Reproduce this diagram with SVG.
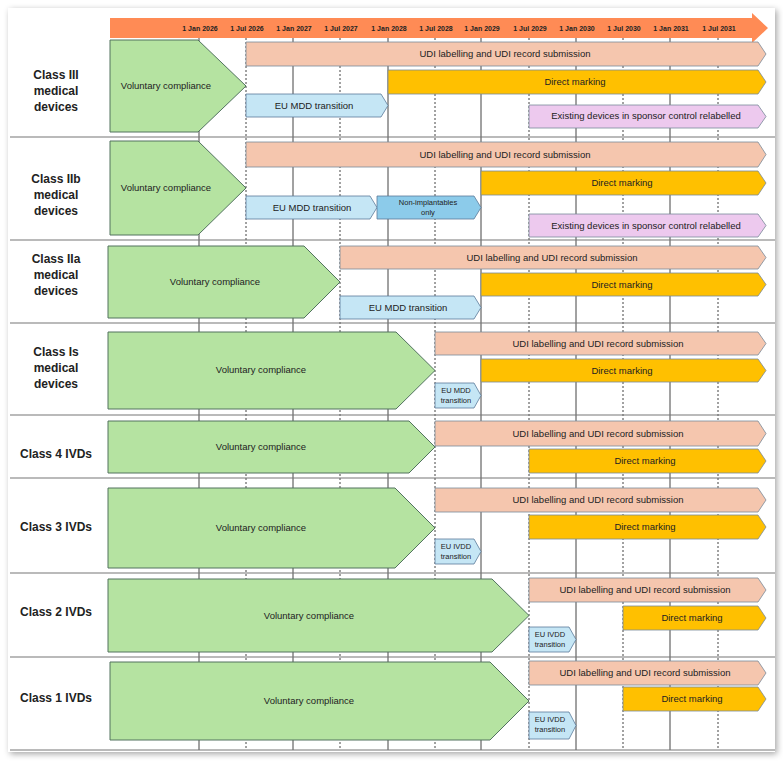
<svg xmlns="http://www.w3.org/2000/svg" width="783" height="763" viewBox="0 0 783 763">
<defs>
<style>
text{font-family:"Liberation Sans",Arial,sans-serif;fill:#222}
.lab{font-size:12px;font-weight:bold;text-anchor:middle}
.dt{font-size:7px;font-weight:bold;text-anchor:middle}
.t{font-size:9.5px;text-anchor:middle}
.s{font-size:7.5px;text-anchor:middle}
.g{fill:#b5e3a1;stroke:#52735f;stroke-width:1}
.u{fill:#f5c6ae;stroke:#7a8a99;stroke-width:0.8}
.d{fill:#ffc000;stroke:#7a8a99;stroke-width:0.8}
.b{fill:#c5e6f5;stroke:#5a7a99;stroke-width:0.8}
.b2{fill:#8ccbea;stroke:#5a7a99;stroke-width:0.8}
.p{fill:#edc9ee;stroke:#7a8a99;stroke-width:0.8}
.sol{stroke:#444;stroke-width:1}
.dash{stroke:#444;stroke-width:1;stroke-dasharray:2 2}
.sep{stroke:#777;stroke-width:1.2}
</style>
<filter id="sh" x="-5%" y="-5%" width="110%" height="110%"><feDropShadow dx="2" dy="2" stdDeviation="3" flood-opacity="0.35"/></filter>
</defs>
<rect x="8" y="8" width="767" height="744" fill="#fff" filter="url(#sh)"/>
<g id="grid">
<line class="sol" x1="199" y1="38" x2="199" y2="750"/>
<line class="dash" x1="246" y1="38" x2="246" y2="750"/>
<line class="sol" x1="293" y1="38" x2="293" y2="750"/>
<line class="dash" x1="340" y1="38" x2="340" y2="750"/>
<line class="sol" x1="388" y1="38" x2="388" y2="750"/>
<line class="dash" x1="435" y1="38" x2="435" y2="750"/>
<line class="sol" x1="481" y1="38" x2="481" y2="750"/>
<line class="dash" x1="529" y1="38" x2="529" y2="750"/>
<line class="sol" x1="576" y1="38" x2="576" y2="750"/>
<line class="dash" x1="623" y1="38" x2="623" y2="750"/>
<line class="sol" x1="670" y1="38" x2="670" y2="750"/>
<line class="dash" x1="718" y1="38" x2="718" y2="750"/>
<line class="sep" x1="10" y1="137" x2="775" y2="137"/>
<line class="sep" x1="10" y1="240" x2="775" y2="240"/>
<line class="sep" x1="10" y1="323" x2="775" y2="323"/>
<line class="sep" x1="10" y1="415" x2="775" y2="415"/>
<line class="sep" x1="10" y1="478" x2="775" y2="478"/>
<line class="sep" x1="10" y1="573" x2="775" y2="573"/>
<line class="sep" x1="10" y1="657" x2="775" y2="657"/>
<line class="sep" x1="10" y1="750" x2="775" y2="750"/>
</g>
<g id="timeline">
<path d="M110 18 H752 V13 L768 28 L752 43 V38 H110 Z" fill="#ff8b55"/>
<text class="dt" x="200" y="31">1 Jan 2026</text>
<text class="dt" x="247" y="31">1 Jul 2026</text>
<text class="dt" x="294" y="31">1 Jan 2027</text>
<text class="dt" x="341" y="31">1 Jul 2027</text>
<text class="dt" x="389" y="31">1 Jan 2028</text>
<text class="dt" x="436" y="31">1 Jul 2028</text>
<text class="dt" x="482" y="31">1 Jan 2029</text>
<text class="dt" x="530" y="31">1 Jul 2029</text>
<text class="dt" x="577" y="31">1 Jan 2030</text>
<text class="dt" x="624" y="31">1 Jul 2030</text>
<text class="dt" x="671" y="31">1 Jan 2031</text>
<text class="dt" x="719" y="31">1 Jul 2031</text>
</g>
<g id="row1">
<text class="lab" x="56" y="79">Class III</text><text class="lab" x="56" y="95">medical</text><text class="lab" x="56" y="111">devices</text>
<path class="g" d="M110 40 H198 L246 86 L198 132 H110 Z"/><text class="t" x="166" y="89">Voluntary compliance</text>
<path class="u" d="M246 42 H758 L766 54 L758 66 H246 Z"/><text class="t" x="505" y="57">UDI labelling and UDI record submission</text>
<path class="d" d="M388 70 H758 L766 82 L758 94 H388 Z"/><text class="t" x="575" y="85">Direct marking</text>
<path class="b" d="M246 94 H381 L388 105.5 L381 117 H246 Z"/><text class="t" x="314" y="109">EU MDD transition</text>
<path class="p" d="M529 105 H758 L766 116.5 L758 128 H529 Z"/><text class="t" x="646" y="119">Existing devices in sponsor control relabelled</text>
</g>
<g id="row2">
<text class="lab" x="56" y="183">Class IIb</text><text class="lab" x="56" y="199">medical</text><text class="lab" x="56" y="215">devices</text>
<path class="g" d="M110 141 H198 L246 188 L198 235 H110 Z"/><text class="t" x="166" y="191">Voluntary compliance</text>
<path class="u" d="M246 142 H758 L766 154.5 L758 167 H246 Z"/><text class="t" x="505" y="158">UDI labelling and UDI record submission</text>
<path class="d" d="M481 171 H758 L766 183 L758 195 H481 Z"/><text class="t" x="622" y="186">Direct marking</text>
<path class="b" d="M246 196 H370 L377 207.5 L370 219 H246 Z"/><text class="t" x="312" y="211">EU MDD transition</text>
<path class="b2" d="M377 196 H474 L481 207.5 L474 219 H377 Z"/><text class="s" x="428" y="205">Non-implantables</text><text class="s" x="428" y="215">only</text>
<path class="p" d="M529 214 H758 L766 225.5 L758 237 H529 Z"/><text class="t" x="646" y="229">Existing devices in sponsor control relabelled</text>
</g>
<g id="row3">
<text class="lab" x="56" y="263">Class IIa</text><text class="lab" x="56" y="279">medical</text><text class="lab" x="56" y="295">devices</text>
<path class="g" d="M108 246 H304 L340 282 L304 318 H108 Z"/><text class="t" x="215" y="285">Voluntary compliance</text>
<path class="u" d="M340 246 H758 L766 257.5 L758 269 H340 Z"/><text class="t" x="552" y="261">UDI labelling and UDI record submission</text>
<path class="d" d="M481 273 H758 L766 284.5 L758 296 H481 Z"/><text class="t" x="622" y="288">Direct marking</text>
<path class="b" d="M340 296 H474 L481 307.5 L474 319 H340 Z"/><text class="t" x="408" y="311">EU MDD transition</text>
</g>
<g id="row4">
<text class="lab" x="56" y="356">Class Is</text><text class="lab" x="56" y="372">medical</text><text class="lab" x="56" y="388">devices</text>
<path class="g" d="M108 332 H396 L435 370.5 L396 409 H108 Z"/><text class="t" x="261" y="373">Voluntary compliance</text>
<path class="u" d="M435 332 H758 L766 343.5 L758 355 H435 Z"/><text class="t" x="598" y="347">UDI labelling and UDI record submission</text>
<path class="d" d="M481 359 H758 L766 370.5 L758 382 H481 Z"/><text class="t" x="622" y="374">Direct marking</text>
<path class="b" d="M435 383 H474 L481 395.5 L474 408 H435 Z"/><text class="s" x="456" y="393">EU MDD</text><text class="s" x="456" y="403">transition</text>
</g>
<g id="row5">
<text class="lab" x="56" y="458">Class 4 IVDs</text>
<path class="g" d="M108 421 H409 L435 447 L409 473 H108 Z"/><text class="t" x="261" y="450">Voluntary compliance</text>
<path class="u" d="M435 421 H758 L766 433.5 L758 446 H435 Z"/><text class="t" x="598" y="437">UDI labelling and UDI record submission</text>
<path class="d" d="M529 449 H758 L766 461 L758 473 H529 Z"/><text class="t" x="645" y="464">Direct marking</text>
</g>
<g id="row6">
<text class="lab" x="56" y="531">Class 3 IVDs</text>
<path class="g" d="M108 488 H395 L435 528 L395 568 H108 Z"/><text class="t" x="261" y="531">Voluntary compliance</text>
<path class="u" d="M435 488 H758 L766 500 L758 512 H435 Z"/><text class="t" x="598" y="503">UDI labelling and UDI record submission</text>
<path class="d" d="M529 515 H758 L766 527 L758 539 H529 Z"/><text class="t" x="645" y="530">Direct marking</text>
<path class="b" d="M435 539 H474 L481 551.5 L474 564 H435 Z"/><text class="s" x="456" y="549">EU IVDD</text><text class="s" x="456" y="559">transition</text>
</g>
<g id="row7">
<text class="lab" x="56" y="616">Class 2 IVDs</text>
<path class="g" d="M108 579 H492 L529 615.5 L492 652 H108 Z"/><text class="t" x="309" y="619">Voluntary compliance</text>
<path class="u" d="M529 578 H758 L766 590 L758 602 H529 Z"/><text class="t" x="645" y="593">UDI labelling and UDI record submission</text>
<path class="d" d="M623 606 H758 L766 618 L758 630 H623 Z"/><text class="t" x="692" y="621">Direct marking</text>
<path class="b" d="M529 627 H569 L576 639.5 L569 652 H529 Z"/><text class="s" x="550" y="637">EU IVDD</text><text class="s" x="550" y="647">transition</text>
</g>
<g id="row8">
<text class="lab" x="56" y="702">Class 1 IVDs</text>
<path class="g" d="M110 662 H490 L529 701 L490 740 H110 Z"/><text class="t" x="309" y="704">Voluntary compliance</text>
<path class="u" d="M529 661 H758 L766 673 L758 685 H529 Z"/><text class="t" x="645" y="676">UDI labelling and UDI record submission</text>
<path class="d" d="M623 687 H758 L766 699 L758 711 H623 Z"/><text class="t" x="692" y="702">Direct marking</text>
<path class="b" d="M529 712 H569 L576 725.5 L569 739 H529 Z"/><text class="s" x="550" y="722">EU IVDD</text><text class="s" x="550" y="732">transition</text>
</g>
</svg>
